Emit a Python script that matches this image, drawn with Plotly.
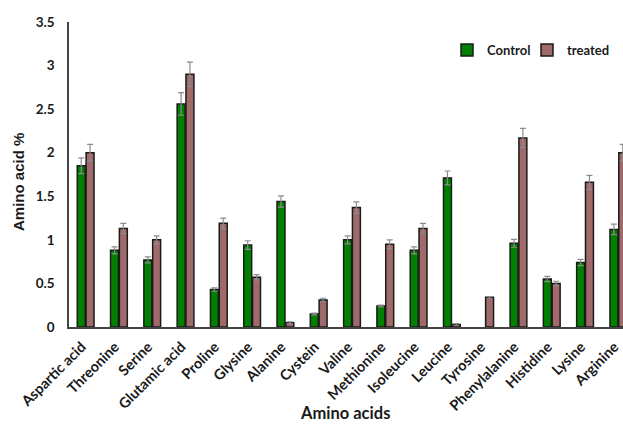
import plotly.graph_objects as go

categories = ["Aspartic acid", "Threonine", "Serine", "Glutamic acid", "Proline", "Glysine",
              "Alanine", "Cystein", "Valine", "Methionine", "Isoleucine", "Leucine",
              "Tyrosine", "Phenylalanine", "Histidine", "Lysine", "Arginine"]
control = [1.85, 0.88, 0.77, 2.56, 0.43, 0.94, 1.44, 0.15, 1.00, 0.24, 0.88, 1.71,
           None, 0.96, 0.55, 0.74, 1.12]
control_err = [0.09, 0.04, 0.035, 0.13, 0.02, 0.05, 0.065, 0.01, 0.045, 0.01, 0.04, 0.08,
               0, 0.045, 0.03, 0.035, 0.06]
treated = [2.00, 1.13, 1.00, 2.90, 1.19, 0.57, 0.05, 0.31, 1.37, 0.95, 1.13, 0.03,
           0.34, 2.17, 0.50, 1.66, 2.00]
treated_err = [0.095, 0.06, 0.045, 0.14, 0.06, 0.03, 0.01, 0.02, 0.065, 0.05, 0.06, 0.01,
               0.01, 0.11, 0.025, 0.08, 0.095]

err_style = dict(type="data", visible=True, color="#8c8c8c", thickness=1.2, width=3)

fig = go.Figure()
fig.add_trace(go.Bar(
    x=categories, y=control, name="Control", legend="legend",
    marker=dict(color="#008000", line=dict(color="#1a1a1a", width=1.5)),
    error_y=dict(array=control_err, **err_style),
))
fig.add_trace(go.Bar(
    x=categories, y=treated, name="treated", legend="legend2",
    marker=dict(color="#A06A6A", line=dict(color="#1a1a1a", width=1.5)),
    error_y=dict(array=treated_err, **err_style),
))

legend_common = dict(orientation="h", y=0.908, xanchor="left", yanchor="middle",
                     font=dict(size=13, family="Lato, sans-serif", weight="bold"),
                     bgcolor="rgba(0,0,0,0)", itemwidth=30)

fig.update_layout(
    width=623, height=425,
    margin=dict(l=69, r=0, t=22, b=98, autoexpand=False),
    paper_bgcolor="white", plot_bgcolor="white",
    barmode="group", bargap=0.47, bargroupgap=0.1,
    font=dict(family="Lato, 'Open Sans', sans-serif", color="#1a1a1a"),
    showlegend=True,
    legend=dict(x=(447 - 69) / 554, **legend_common),
    legend2=dict(x=(527 - 69) / 554, **legend_common),
    xaxis=dict(
        range=[-0.5, 16.14], showline=True, linecolor="#444", linewidth=1.5,
        tickangle=-45, tickfont=dict(size=14.5, family="Lato, sans-serif", weight="bold"),
        ticks="", showgrid=False, fixedrange=True, automargin=False,
        ticklabelshift=-4, ticklabelstandoff=4,
    ),
    yaxis=dict(
        range=[0, 3.5], dtick=0.5, showline=True, linecolor="#444", linewidth=1.5,
        ticks="", showgrid=False, zeroline=False, automargin=False,
        ticklabelstandoff=10,
        tickfont=dict(size=13.5, family="Lato, sans-serif", weight="bold"),
    ),
    annotations=[
        dict(text="<b>Amino acids</b>", xref="paper", yref="paper", x=(345 - 69) / 554,
             y=-(413 - 327) / 305, xanchor="center", yanchor="middle", showarrow=False,
             font=dict(size=16.5, family="Lato, sans-serif", color="#1a1a1a")),
        dict(text="<b>Amino acid %</b>", xref="paper", yref="paper", x=(18 - 69) / 554,
             y=(327 - 182) / 305, xanchor="center", yanchor="middle", showarrow=False,
             textangle=-90,
             font=dict(size=15, family="Liberation Sans, Arial, sans-serif", color="#1a1a1a")),
    ],
)

fig.write_html("out.html", config={"displayModeBar": False},
               post_script="document.body.style.margin='0';")
